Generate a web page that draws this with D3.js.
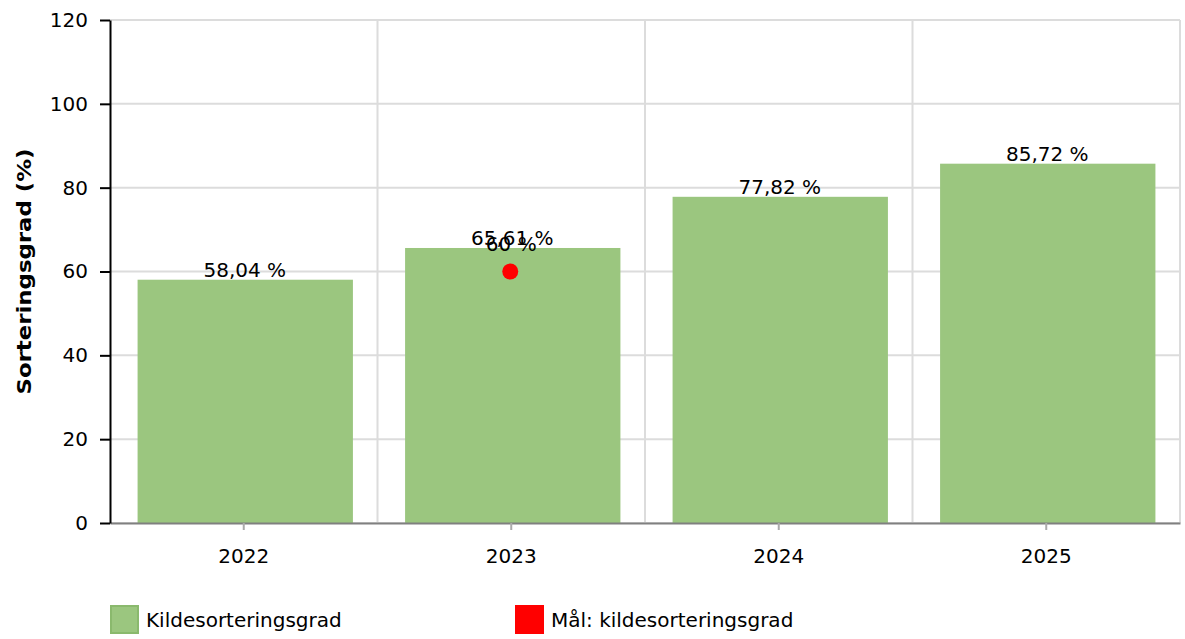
<!DOCTYPE html>
<html lang="no">
<head>
    <meta charset="UTF-8">
    <title>Kildesorteringsgrad</title>
    <script src="https://cdn.jsdelivr.net/npm/d3@7"></script>
    <style>
        body { margin: 0; background: #fff; }
        svg text { font-family: Verdana, "DejaVu Sans", sans-serif; fill: #000; }
    </style>
</head>
<body>
    <svg id="chart" width="1185" height="639"></svg>

    <script>
        // data
        const years = ['2022', '2023', '2024', '2025'];
        const sortingRate = [58.04, 65.61, 77.82, 85.72];
        const targetYears = ['2023'];
        const targetValues = [60];
        const yTicks = [0, 20, 40, 60, 80, 100, 120];

        const fmt = v => String(v).replace('.', ',') + ' %';
        const fs = 20;

        const svg = d3.select('#chart');
        const plot = { left: 110, right: 1180, top: 20, bottom: 523 };

        const x = d3.scaleBand().domain(years).range([plot.left, plot.right]).padding(0);
        const y = d3.scaleLinear().domain([0, 120]).range([plot.bottom, plot.top]);

        // grid
        svg.append('g').selectAll('line').data(yTicks).join('line')
            .attr('x1', plot.left).attr('x2', plot.right)
            .attr('y1', d => y(d)).attr('y2', d => y(d))
            .attr('stroke', '#dcdcdc').attr('stroke-width', 2);

        svg.append('g').selectAll('line').data(years.slice(1).concat(['end'])).join('line')
            .attr('x1', d => d === 'end' ? plot.right : x(d))
            .attr('x2', d => d === 'end' ? plot.right : x(d))
            .attr('y1', plot.top).attr('y2', plot.bottom)
            .attr('stroke', '#dcdcdc').attr('stroke-width', 2);

        // bars
        const barW = x.bandwidth() * 0.805;
        const mid = d => x(d) + x.bandwidth() / 2;
        svg.append('g').selectAll('rect').data(years).join('rect')
            .attr('x', d => mid(d) - barW / 2 + 1.5)
            .attr('width', barW)
            .attr('y', (d, i) => y(sortingRate[i]))
            .attr('height', (d, i) => plot.bottom - y(sortingRate[i]))
            .attr('fill', '#9bc67f');

        svg.append('g').selectAll('text').data(years).join('text')
            .attr('x', d => mid(d) + 1)
            .attr('y', (d, i) => y(sortingRate[i]) - 3)
            .attr('text-anchor', 'middle')
            .attr('font-size', fs)
            .text((d, i) => fmt(sortingRate[i]));

        // x axis
        const xAxis = svg.append('g')
            .attr('transform', `translate(0,${plot.bottom})`)
            .call(d3.axisBottom(x).tickSize(7).tickSizeOuter(0).tickPadding(19));
        xAxis.select('.domain').attr('stroke', '#808080').attr('stroke-width', 2);
        xAxis.selectAll('.tick line').attr('stroke', '#aaa').attr('stroke-width', 2);
        xAxis.selectAll('.tick text').attr('font-size', fs).attr('fill', '#000')
            .style('font-family', 'Verdana, "DejaVu Sans", sans-serif');

        // y axis
        const yAxis = svg.append('g')
            .attr('transform', `translate(${plot.left},0)`)
            .call(d3.axisLeft(y).tickValues(yTicks).tickSize(10).tickPadding(12).tickSizeOuter(0));
        yAxis.select('.domain').attr('stroke', '#000').attr('stroke-width', 2);
        yAxis.selectAll('.tick line').attr('stroke', '#000').attr('stroke-width', 2);
        yAxis.selectAll('.tick text').attr('font-size', fs).attr('fill', '#000')
            .style('font-family', 'Verdana, "DejaVu Sans", sans-serif');

        svg.append('text')
            .attr('transform', `translate(31,${(plot.top + plot.bottom) / 2}) rotate(-90)`)
            .attr('text-anchor', 'middle')
            .attr('font-size', fs)
            .attr('font-weight', 'bold')
            .attr('textLength', 246)
            .attr('lengthAdjust', 'spacingAndGlyphs')
            .text('Sorteringsgrad (%)');

        // target points
        svg.append('g').selectAll('circle').data(targetYears).join('circle')
            .attr('cx', d => mid(d) - 1)
            .attr('cy', (d, i) => y(targetValues[i]))
            .attr('r', 8)
            .attr('fill', '#ff0000');

        svg.append('g').selectAll('text').data(targetYears).join('text')
            .attr('x', d => mid(d))
            .attr('y', (d, i) => y(targetValues[i]) - 21)
            .attr('text-anchor', 'middle')
            .attr('font-size', fs)
            .text((d, i) => fmt(targetValues[i]));

        // legend
        const legend = [
            { label: 'Kildesorteringsgrad', color: '#9bc67f', stroke: '#8ab96d', x: 110 },
            { label: 'Mål: kildesorteringsgrad', color: '#ff0000', stroke: '#ff0000', x: 515 }
        ];
        const lg = svg.append('g').selectAll('g').data(legend).join('g')
            .attr('transform', d => `translate(${d.x},605)`);
        lg.append('rect')
            .attr('x', 1).attr('y', 1).attr('width', 27).attr('height', 27)
            .attr('fill', d => d.color).attr('stroke', d => d.stroke).attr('stroke-width', 2);
        lg.append('text')
            .attr('x', 36).attr('y', 22)
            .attr('font-size', fs)
            .text(d => d.label);
    </script>
</body>
</html>
